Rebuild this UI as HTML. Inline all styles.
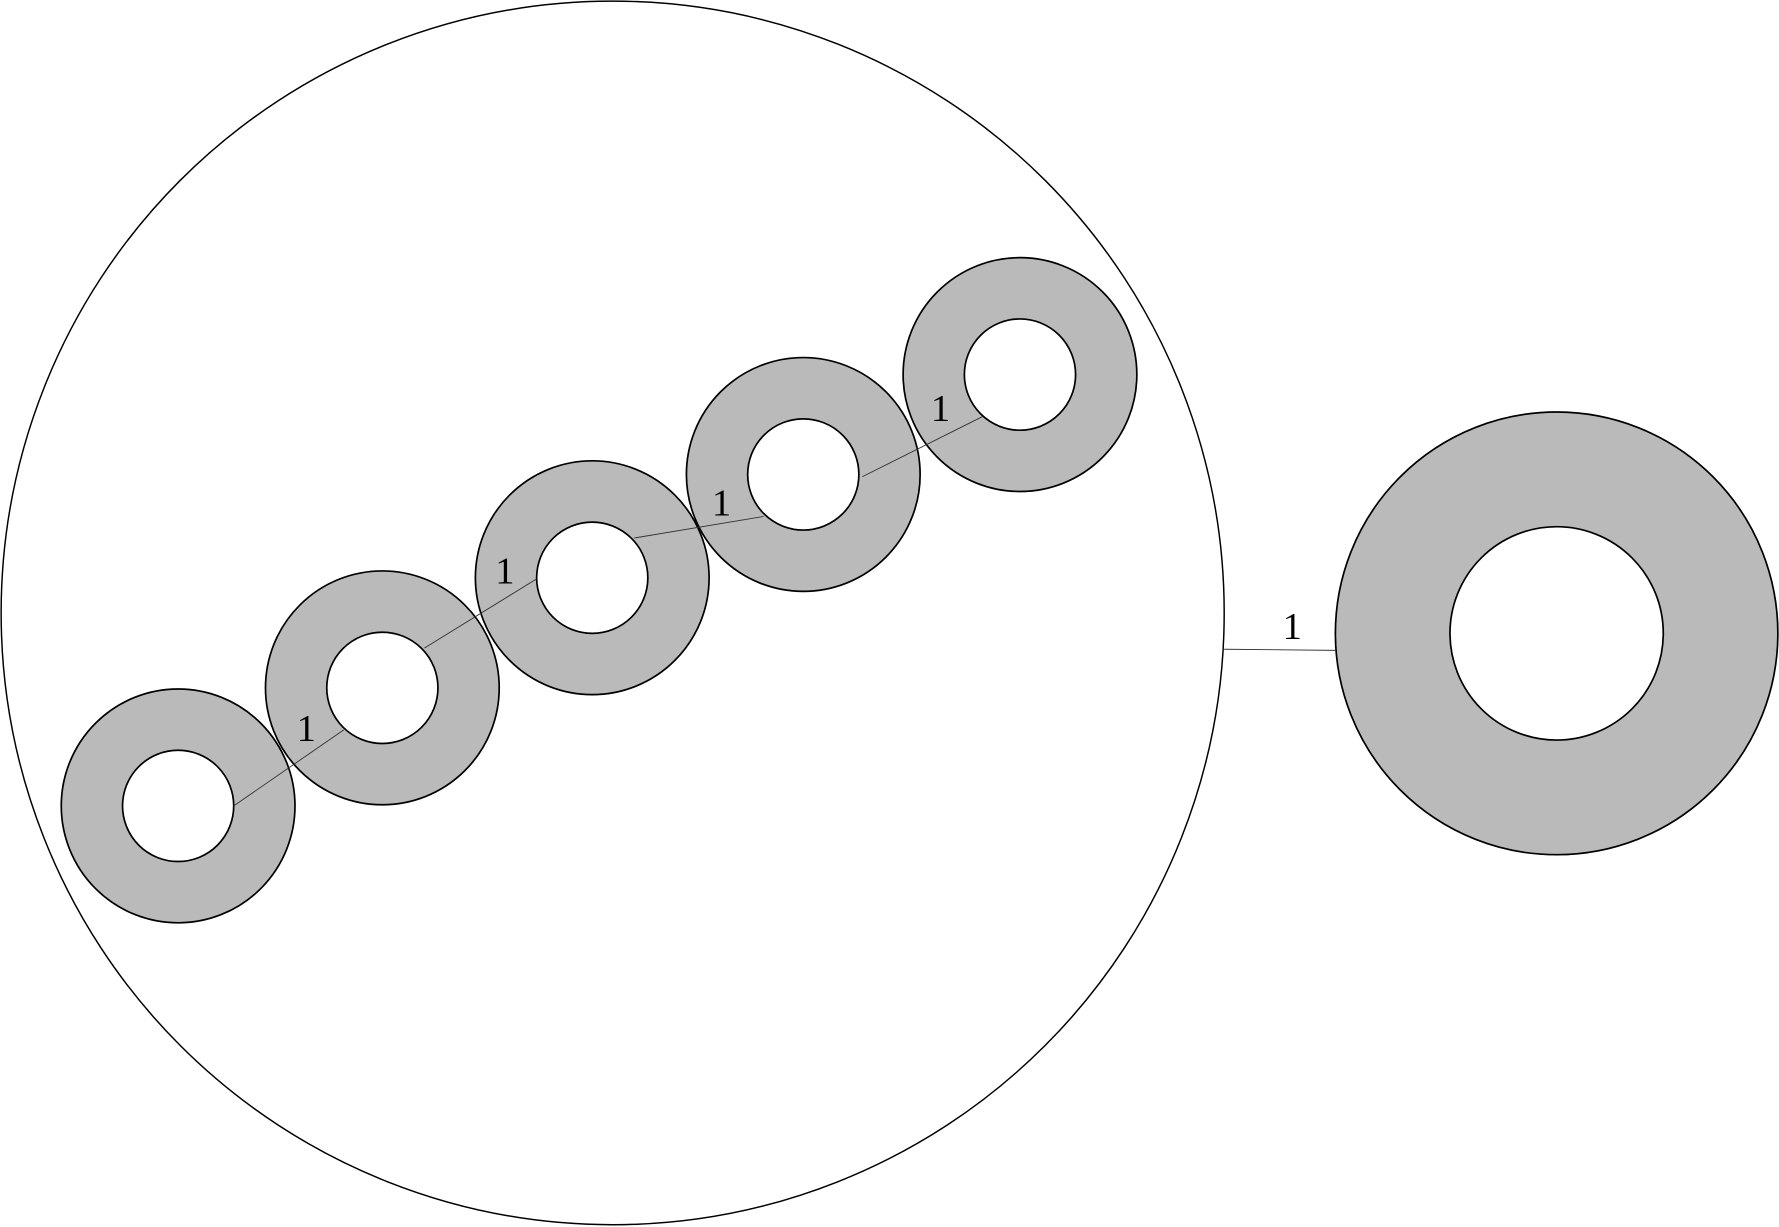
<!DOCTYPE html>
<html><head><meta charset="utf-8"><style>
html,body{margin:0;padding:0;background:#fff;}
svg{display:block;}
</style></head><body>
<svg id="chart" width="1779" height="1227" viewBox="0 0 1568 1081" preserveAspectRatio="none" xmlns="http://www.w3.org/2000/svg"></svg>
<script>
const nodeX = [157, 337, 522, 708, 899];
const nodeY = [710, 606, 509, 418, 330];
const nodeOuter = [103, 103, 103, 103, 103];
const nodeInner = [49, 49, 49, 49, 49];
const edgeX1 = [206, 374, 559, 760];
const edgeY1 = [710, 571, 474, 420];
const edgeX2 = [303, 473, 673, 866];
const edgeY2 = [643, 510, 455, 367];
const labelX = [270, 445, 636, 829];
const labelY = [653, 514, 454, 371];
const edgeLabels = ["1", "1", "1", "1"];
const container = {x: 540, y: 540, r: 539};
const outside = {x: 1372, y: 558, outer: 195, inner: 94};
const outsideLabel = "1";

const NS = "http://www.w3.org/2000/svg";
const svg = document.getElementById('chart');
function mk(tag, attrs){const e=document.createElementNS(NS,tag);for(const k in attrs)e.setAttribute(k,attrs[k]);svg.appendChild(e);return e;}

const big = mk('circle',{cx:container.x,cy:container.y,r:container.r,fill:'#fff',stroke:'#000','stroke-width':1.3});



function donut(x,y,ro,ri,name){
  const o = mk('circle',{cx:x,cy:y,r:ro,fill:'#bababa',stroke:'#000','stroke-width':1.5});
  
  
  const i = mk('circle',{cx:x,cy:y,r:ri,fill:'#fff',stroke:'#000','stroke-width':1.5});
  
  
}
for(let k=0;k<nodeX.length;k++) donut(nodeX[k],nodeY[k],nodeOuter[k],nodeInner[k],'node-'+(k+1));
donut(outside.x,outside.y,outside.outer,outside.inner,'outside-node');

function label(x,y,t,name){
  const e = mk('text',{x:x,y:y,'font-family':'"Liberation Serif", serif','font-size':34,'text-anchor':'middle',fill:'#000'});
  e.textContent=t;
  
  
}
for(let k=0;k<edgeX1.length;k++){
  const l = mk('line',{x1:edgeX1[k],y1:edgeY1[k],x2:edgeX2[k],y2:edgeY2[k],stroke:'#333','stroke-width':0.8});
  
  
  label(labelX[k], labelY[k], edgeLabels[k], 'edge-label-'+(k+1));
}
const ex1=container.x+container.r, ex2=outside.x-outside.outer;
const el = mk('line',{x1:ex1,y1:572,x2:ex2,y2:573,stroke:'#333','stroke-width':0.8});


label(1139, 563, outsideLabel, 'outside-edge-label');
</script>
</body></html>
